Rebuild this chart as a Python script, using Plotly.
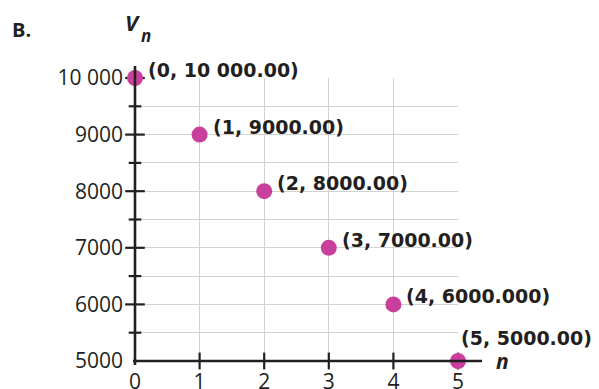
import plotly.graph_objects as go

n_vals = [0, 1, 2, 3, 4, 5]
v_vals = [10000, 9000, 8000, 7000, 6000, 5000]
point_labels = ["(0, 10 000.00)", "(1, 9000.00)", "(2, 8000.00)",
                "(3, 7000.00)", "(4, 6000.000)", "(5, 5000.00)"]
x_ticks = [0, 1, 2, 3, 4, 5]
y_ticks = [5000, 6000, 7000, 8000, 9000, 10000]
y_tick_text = ["5000", "6000", "7000", "8000", "9000", "10 000"]
y_minor = [5500, 6500, 7500, 8500, 9500]

INK = "#231f20"
MAG = "#c8409b"
GRID = "#d2d2d2"
FONT = "Open Sans"
BOLD = "DejaVu Sans"

W, H = 599, 389
L, R, T, B = 135, 141, 78, 28
pw, ph = W - L - R, H - T - B


def px(xp):
    return (xp - L) / pw


def py(yp):
    return (H - B - yp) / ph


fig = go.Figure()

# axis lines (paper shapes so they may extend past the plot area)
fig.add_shape(type="line", xref="paper", yref="paper", x0=px(135), x1=px(135),
              y0=py(365), y1=py(66), line=dict(color=INK, width=2.6), layer="above")
fig.add_shape(type="line", xref="paper", yref="paper", x0=px(133), x1=px(482),
              y0=py(361), y1=py(361), line=dict(color=INK, width=2.6), layer="above")

# tick marks crossing the axes
fig.add_trace(go.Scatter(x=x_ticks[1:], y=[5000] * (len(x_ticks) - 1), mode="markers",
                         marker=dict(symbol="line-ns", size=12, line=dict(color=INK, width=2.2)),
                         cliponaxis=False, hoverinfo="skip", showlegend=False))
fig.add_trace(go.Scatter(x=[0] * len(y_ticks[1:]), y=y_ticks[1:], mode="markers",
                         marker=dict(symbol="line-ew", size=14, line=dict(color=INK, width=2.2)),
                         cliponaxis=False, hoverinfo="skip", showlegend=False))
fig.add_trace(go.Scatter(x=[0] * len(y_minor), y=y_minor, mode="markers",
                         marker=dict(symbol="line-ew", size=9, line=dict(color=INK, width=2.2)),
                         cliponaxis=False, hoverinfo="skip", showlegend=False))

# arrow heads
fig.add_trace(go.Scatter(x=[0], y=[10000 + 16 / ph * 5000], mode="markers",
                         marker=dict(symbol="triangle-up", size=13, color=INK),
                         cliponaxis=False, hoverinfo="skip", showlegend=False))
fig.add_trace(go.Scatter(x=[5 + 28 / pw * 5], y=[5000], mode="markers",
                         marker=dict(symbol="triangle-right", size=13, color=INK),
                         cliponaxis=False, hoverinfo="skip", showlegend=False))

# data points
fig.add_trace(go.Scatter(x=n_vals, y=v_vals, mode="markers",
                         marker=dict(color=MAG, size=16),
                         cliponaxis=False, hoverinfo="skip", showlegend=False))

annotations = []
for i, (xv, yv, lab) in enumerate(zip(n_vals, v_vals, point_labels)):
    if i < len(n_vals) - 1:
        xs, ys = 11, 8
    else:
        xs, ys = 1, 23
    annotations.append(dict(x=xv, y=yv, xref="x", yref="y", text="<b>" + lab + "</b>",
                            showarrow=False, xanchor="left", yanchor="middle",
                            xshift=xs, yshift=ys,
                            font=dict(family=BOLD, size=19, color=INK)))

annotations.append(dict(x=px(10), y=py(30), xref="paper", yref="paper", text="<b>B.</b>",
                        showarrow=False, xanchor="left", yanchor="middle",
                        font=dict(family=FONT, size=20, color=INK)))
annotations.append(dict(x=px(123), y=py(22), xref="paper", yref="paper",
                        text="<b><i>V</i></b>", showarrow=False, xanchor="left", yanchor="middle",
                        font=dict(family=FONT, size=22, color=INK)))
annotations.append(dict(x=px(139), y=py(35), xref="paper", yref="paper",
                        text="<b><i>n</i></b>", showarrow=False, xanchor="left", yanchor="middle",
                        font=dict(family=FONT, size=17, color=INK)))
annotations.append(dict(x=px(494), y=py(361), xref="paper", yref="paper",
                        text="<b><i>n</i></b>", showarrow=False, xanchor="left", yanchor="middle",
                        font=dict(family=FONT, size=21, color=INK)))

fig.update_layout(
    width=W, height=H,
    margin=dict(l=L, r=R, t=T, b=B, autoexpand=False),
    paper_bgcolor="white", plot_bgcolor="white",
    font=dict(family=FONT, color=INK, size=21),
    showlegend=False,
    xaxis=dict(range=[0, 5], tickvals=x_ticks, ticktext=[str(t) for t in x_ticks],
               showgrid=True, gridcolor=GRID, gridwidth=1, zeroline=False, showline=False,
               ticks="", ticklabelstandoff=6, automargin=False,
               tickfont=dict(family=FONT, size=21, color=INK)),
    yaxis=dict(range=[5000, 10000], tickvals=y_ticks, ticktext=y_tick_text,
               showgrid=True, gridcolor=GRID, gridwidth=1, zeroline=False, showline=False,
               ticks="", ticklabelstandoff=11, automargin=False,
               tickfont=dict(family=FONT, size=21, color=INK),
               minor=dict(tickvals=y_minor, showgrid=True, gridcolor=GRID, gridwidth=1)),
    annotations=annotations,
)

fig.write_html("out.html", config={"displayModeBar": False},
               post_script="document.body.style.margin='0px';")
